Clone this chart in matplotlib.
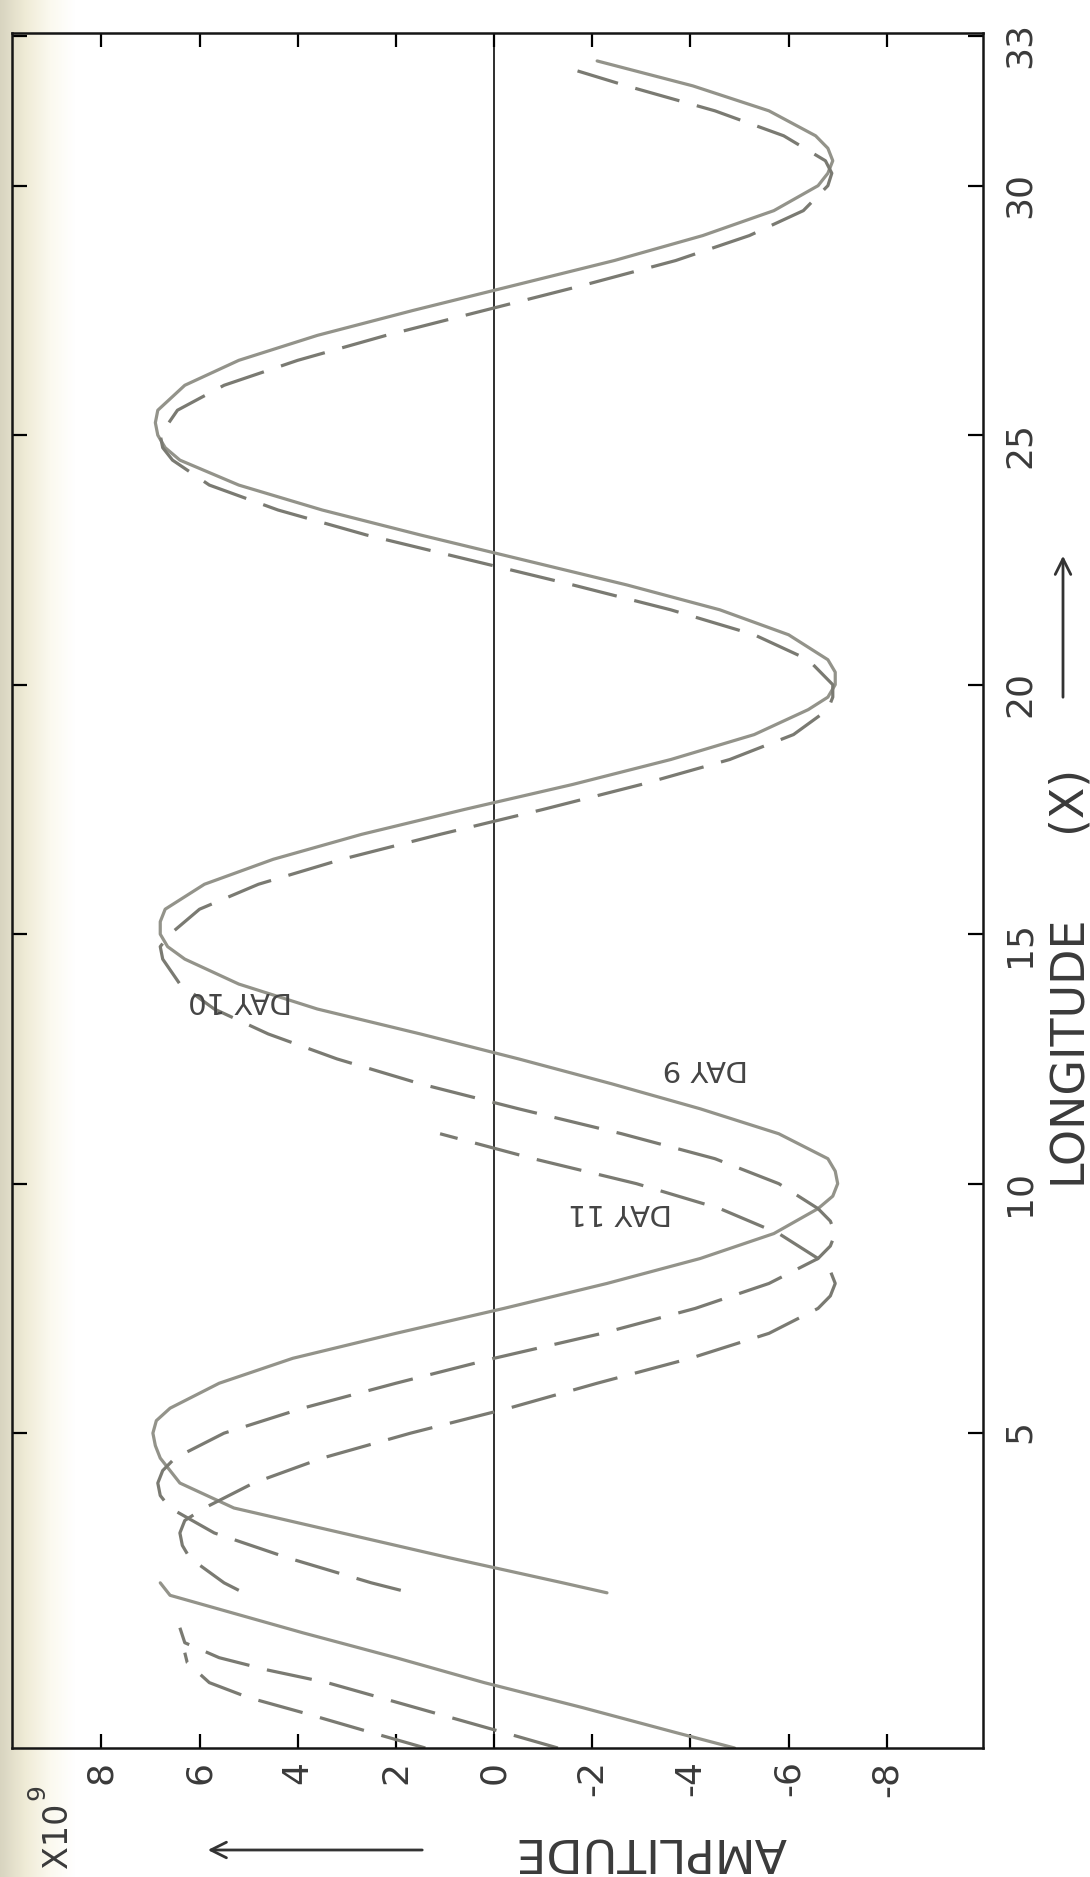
import numpy as np
import matplotlib
matplotlib.use('Agg')
import matplotlib.pyplot as plt
from matplotlib.colors import LinearSegmentedColormap

plt.rcParams['font.family'] = ['DejaVu Sans']
plt.rcParams['lines.scale_dashes'] = False

# amplitude (x10^9), against longitude (X)
day9_lon = [1.8, 2.0, 2.5, 3.0, 3.5, 4.0, 4.5, 4.75, 5.0, 5.25, 5.5, 6.0, 6.5, 7.0, 7.5, 8.0, 8.5, 9.0, 9.5,
            9.75, 10.0, 10.25, 10.5, 11.0, 11.5, 12.0, 12.5, 13.0, 13.5, 14.0, 14.5, 14.75, 15.0, 15.25,
            15.5, 16.0, 16.5, 17.0, 17.5, 18.0, 18.5, 19.0, 19.5, 19.75, 20.0, 20.25, 20.5, 21.0, 21.5,
            22.0, 22.5, 23.0, 23.5, 24.0, 24.5, 24.75, 25.0, 25.25, 25.5, 26.0, 26.5, 27.0, 27.5, 28.0,
            28.5, 29.0, 29.5, 30.0, 30.25, 30.5, 30.75, 31.0, 31.5, 32.0, 32.5]
day9_amp = [-2.3, -1.4, 0.9, 3.1, 5.3, 6.4, 6.8, 6.9, 6.95, 6.88, 6.6, 5.6, 4.1, 2.0, -0.2, -2.3, -4.2, -5.7,
            -6.6, -6.9, -7.0, -6.95, -6.8, -5.8, -4.2, -2.4, -0.5, 1.5, 3.6, 5.2, 6.3, 6.65, 6.8, 6.8,
            6.7, 5.9, 4.5, 2.7, 0.6, -1.6, -3.6, -5.3, -6.4, -6.8, -6.95, -6.95, -6.8, -6.0, -4.6,
            -2.7, -0.6, 1.5, 3.5, 5.2, 6.4, 6.7, 6.85, 6.9, 6.85, 6.3, 5.2, 3.6, 1.65, -0.4,
            -2.45, -4.25, -5.7, -6.6, -6.8, -6.9, -6.8, -6.55, -5.6, -4.05, -2.1]

day10_lon = [1.85, 2.0, 2.5, 3.0, 3.5, 3.75, 4.0, 4.25, 4.5, 5.0, 5.5, 6.0, 6.5, 7.0, 7.5, 8.0, 8.5, 8.75,
             9.0, 9.25, 9.5, 10.0, 10.5, 11.0, 11.5, 12.0, 12.5, 13.0, 13.5, 14.0, 14.5, 14.75, 15.0,
             15.5, 16.0, 16.5, 17.0, 17.5, 18.0, 18.5, 19.0, 19.5, 19.75, 20.0, 20.5, 21.0, 21.5, 22.0,
             22.5, 23.0, 23.5, 24.0, 24.5, 24.75, 25.0, 25.5, 26.0, 26.5, 27.0, 27.5, 28.0, 28.5, 29.0,
             29.5, 30.0, 30.25, 30.5, 31.0, 31.5, 32.0, 32.3]
day10_amp = [1.9, 2.5, 4.2, 5.7, 6.6, 6.8, 6.85, 6.75, 6.5, 5.5, 3.9, 2.0, 0.0, -2.2, -4.1, -5.6, -6.6, -6.85,
             -6.95, -6.85, -6.6, -5.8, -4.5, -2.6, -0.5, 1.5, 3.2, 4.6, 5.7, 6.4, 6.75, 6.8, 6.6,
             6.0, 4.8, 3.1, 1.1, -1.0, -3.0, -4.8, -6.1, -6.8, -6.9, -6.9, -6.4, -5.3, -3.6, -1.6,
             0.5, 2.6, 4.4, 5.8, 6.55, 6.75, 6.8, 6.45, 5.5, 4.0, 2.2, 0.2, -1.8, -3.7, -5.2,
             -6.3, -6.8, -6.88, -6.75, -5.9, -4.5, -2.7, -1.7]

day11_lon = [1.85, 2.0, 2.5, 2.75, 3.0, 3.25, 3.5, 4.0, 4.5, 5.0, 5.5, 6.0, 6.5, 7.0, 7.5, 7.75, 8.0, 8.25,
             8.5, 9.0, 9.5, 10.0, 10.5, 11.0]
day11_amp = [5.2, 5.5, 6.2, 6.35, 6.4, 6.3, 5.9, 4.9, 3.5, 1.7, -0.3, -2.1, -4.0, -5.6, -6.6, -6.85, -6.95,
             -6.85, -6.6, -5.8, -4.6, -2.9, -0.8, 1.1]

# short pieces near the western edge
low_solid_lon = [-1.31, -1.0, -0.5, 0.0, 0.5, 1.0, 1.5, 1.75, 2.0]
low_solid_amp = [-4.9, -3.7, -1.8, 0.2, 2.0, 3.9, 5.7, 6.6, 6.8]
low_dash_a_lon = [-1.31, -1.0, -0.5, 0.0, 0.25, 0.5, 0.8, 1.1]
low_dash_a_amp = [-1.3, -0.2, 1.6, 3.4, 4.6, 5.6, 6.3, 6.4]
low_dash_b_lon = [-1.31, -1.0, -0.6, -0.3, 0.0, 0.4, 0.6]
low_dash_b_amp = [1.4, 2.5, 3.9, 5.0, 5.8, 6.25, 6.3]

amp_ticks = [8, 6, 4, 2, 0, -2, -4, -6, -8]
amp_labels = ['8', '6', '4', '2', '0', '-2', '-4', '-6', '-8']
lon_ticks = [5, 10, 15, 20, 25, 30, 33]
lon_labels = ['5', '10', '15', '20', '25', '30', '33']

W, H = 1090, 1877
fig = plt.figure(figsize=(W / 100, H / 100), dpi=100)

# yellowed edge of the scanned page
bg = fig.add_axes([0, 0, 75 / W, 1], zorder=-10)
edge = LinearSegmentedColormap.from_list('edge', ['#d8d4c0', '#efebd6', '#fbf9ef', '#ffffff'])
bg.imshow(np.linspace(0, 1, 200)[None, :], aspect='auto', cmap=edge, extent=[0, 1, 0, 1])
bg.axis('off')

ax = fig.add_axes([12 / W, (H - 1748) / H, (983 - 12) / W, (1748 - 33) / H])
ax.set_facecolor('none')

solid = dict(color='#93938a', lw=2.3, solid_joinstyle='round', solid_capstyle='round')
dashed = dict(color='#7a7a72', lw=2.3, dashes=(33, 13), dash_joinstyle='round')

ax.plot(day9_amp, day9_lon, **solid)
ax.plot(day10_amp, day10_lon, **dashed)
ax.plot(day11_amp, day11_lon, **dashed)
ax.plot(low_solid_amp, low_solid_lon, **solid)
ax.plot(low_dash_a_amp, low_dash_a_lon, **dashed)
ax.plot(low_dash_b_amp, low_dash_b_lon, **dashed)

ax.axvline(0, color='#1c1c1c', lw=1.3, zorder=1)

ax.set_xlim(9.82, -9.96)
ax.set_ylim(-1.31, 33.06)
ax.set_xticks(amp_ticks)
ax.set_xticklabels(amp_labels, rotation=90, fontsize=26, color='#3a3a3a')
ax.set_yticks(lon_ticks)
ax.set_yticklabels(lon_labels, rotation=90, fontsize=26, color='#3a3a3a')
for lbl in ax.get_yticklabels():
    lbl.set_va('center')
ax.tick_params(axis='x', direction='in', length=10, width=1.6, top=True, bottom=True, pad=9)
ax.tick_params(axis='y', direction='in', length=11, width=1.6, left=True, right=True,
               labelleft=False, labelright=True, pad=14)
for s in ax.spines.values():
    s.set_linewidth(1.8)
    s.set_color('#151515')

# curve labels (page is turned, so text runs upside down)
ax.text(-4.3, 12.31, 'DAY 9', rotation=180, fontsize=21, color='#444', ha='center', va='center')
ax.text(-2.57, 9.43, 'DAY 11', rotation=180, fontsize=21, color='#444', ha='center', va='center')
ax.text(5.17, 13.68, 'DAY 10', rotation=180, fontsize=21, color='#444', ha='center', va='center')

# axis titles
fig.text(1068 / W, 1 - 1049 / H, 'LONGITUDE', rotation=90, fontsize=33, color='#3a3a3a',
         ha='center', va='center')
fig.text(1067 / W, 1 - 798 / H, '(X)', rotation=90, fontsize=33, color='#3a3a3a',
         ha='center', va='center')
fig.add_artist(matplotlib.patches.FancyArrowPatch((1063 / W, 1 - 700 / H), (1063 / W, 1 - 553 / H),
               transform=fig.transFigure, arrowstyle='->', mutation_scale=28, lw=2, color='#333'))

fig.text(651 / W, 1 - 1851 / H, 'AMPLITUDE', rotation=180, fontsize=34, color='#3a3a3a',
         ha='center', va='center')
fig.add_artist(matplotlib.patches.FancyArrowPatch((425 / W, 1 - 1850 / H), (205 / W, 1 - 1850 / H),
               transform=fig.transFigure, arrowstyle='->', mutation_scale=28, lw=2, color='#333'))
fig.text(58 / W, 1 - 1835 / H, 'X10', rotation=90, fontsize=24, color='#3a3a3a', ha='center', va='center')
fig.text(37 / W, 1 - 1792 / H, '9', rotation=90, fontsize=18, color='#3a3a3a', ha='center', va='center')

fig.savefig('out.png', dpi=100)
